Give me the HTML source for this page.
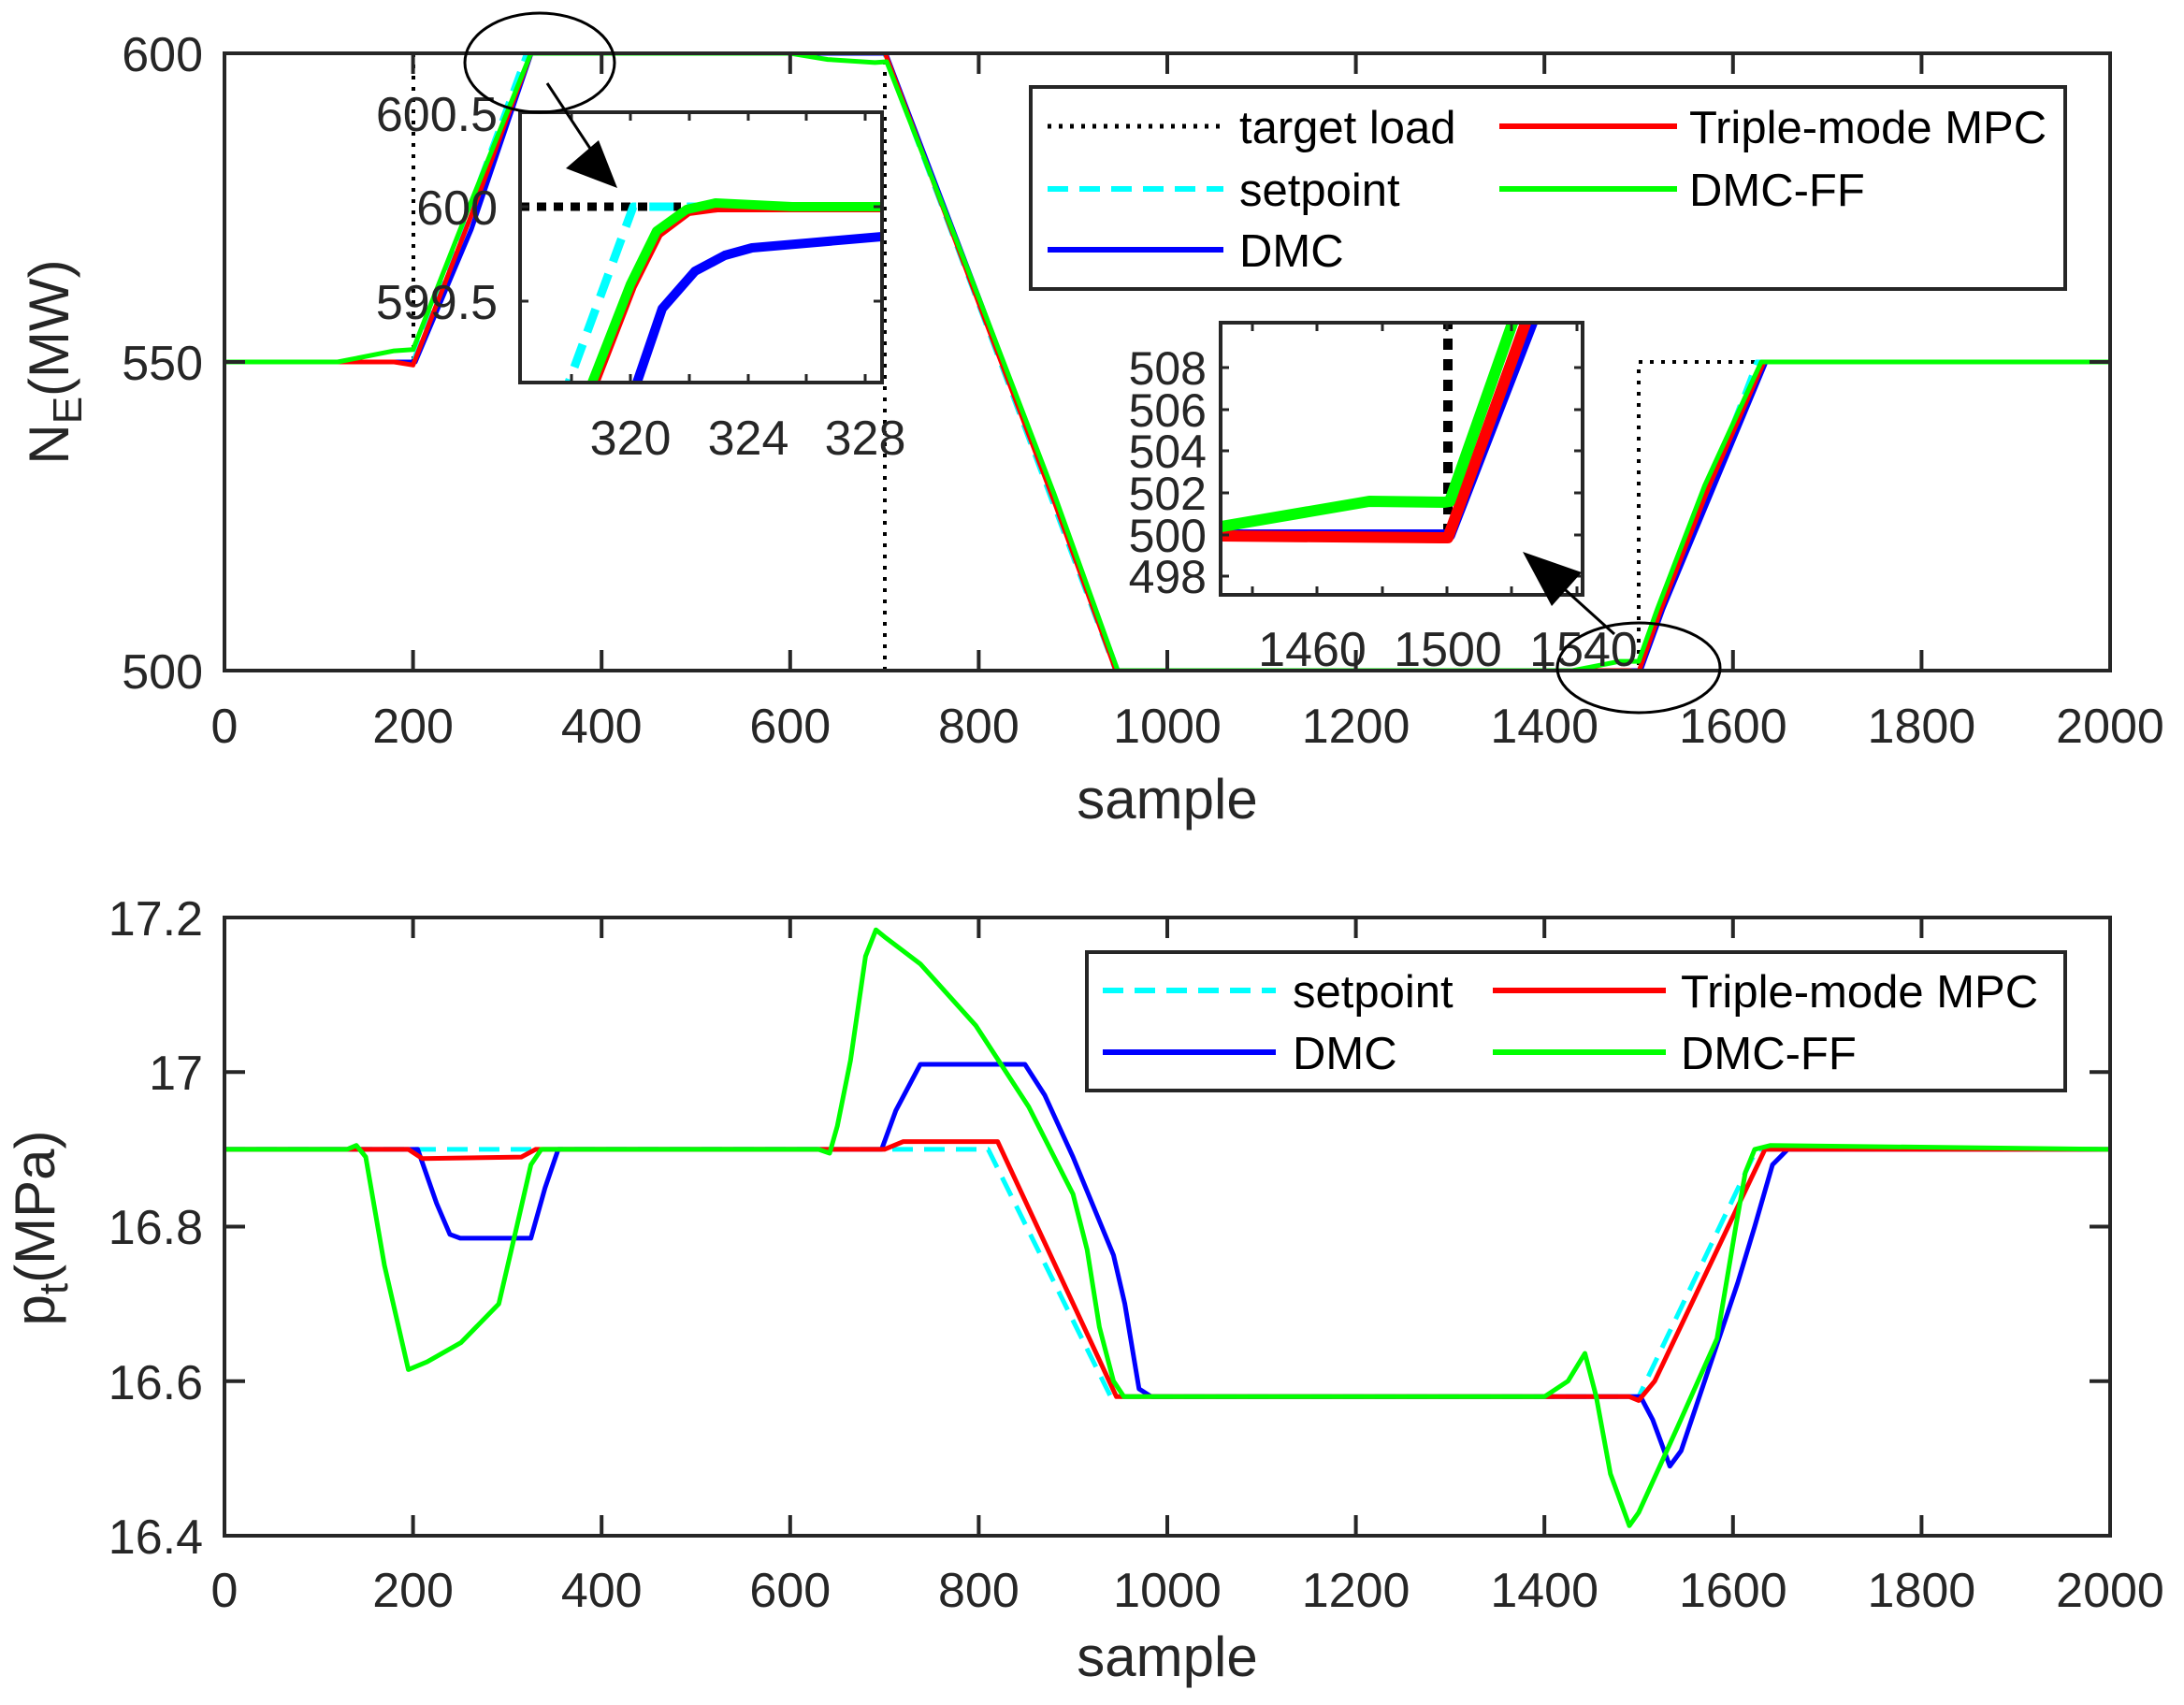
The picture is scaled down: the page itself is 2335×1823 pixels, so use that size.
<!DOCTYPE html>
<html><head><meta charset="utf-8"><style>
html,body{margin:0;padding:0;background:#fff}
svg{display:block}
text{font-family:"Liberation Sans",Arial,sans-serif}
</style></head><body>
<svg width="2335" height="1823" viewBox="0 0 2335 1823" xmlns="http://www.w3.org/2000/svg">
<defs>
<clipPath id="c1"><rect x="240" y="57" width="2016" height="660"/></clipPath>
<clipPath id="c2"><rect x="240" y="981" width="2016" height="661"/></clipPath>
<clipPath id="i1"><rect x="556" y="120" width="387" height="289"/></clipPath>
<clipPath id="i2"><rect x="1305" y="345" width="387" height="291"/></clipPath>
</defs>
<rect width="2335" height="1823" fill="#fff"/>

<!-- ===== TOP PLOT ===== -->
<g clip-path="url(#c1)" fill="none" stroke-linejoin="round">
<polyline stroke="#000" stroke-width="4" stroke-dasharray="4 8" points="240,387 442,387 442,57 946,57 946,717 1752,717 1752,387 2256,387"/>
<polyline stroke="#00ffff" stroke-width="5" stroke-dasharray="22 12" points="240,387 441.6,387 562.6,57 945.6,57 1192.6,717 1752,717 1878,387 2256,387"/>
<polyline stroke="#0000ff" stroke-width="5" points="240,387 444,387 504,245 568,57 947,57 1048,322 1125,527 1195,717 1754,717 1778,651 1888,387 2256,387"/>
<polyline stroke="#ff0000" stroke-width="5" points="240,387 421.4,387 441.6,390.3 502,235 567.6,57 945.6,55 952,72 1046.4,324 1127,536 1193,717 1742,717 1752,718.3 1776,651 1827.6,519 1886,387 2256,387"/>
<polyline stroke="#00ff00" stroke-width="5" points="240,387 361,387 421.4,375.1 441.6,373.8 502,220 567.6,57 844.8,57 885,63.6 935.5,66.9 948,66 1046.4,318 1127,528 1195,717 1681.4,717 1732,707.1 1752,707.1 1772,651 1822.6,519 1883,387 2256,387"/>
</g>
<rect x="240" y="57" width="2016" height="660" fill="none" stroke="#262626" stroke-width="4"/>
<g stroke="#262626" stroke-width="4">
<path d="M441.6,717v-22M643.2,717v-22M844.8,717v-22M1046.4,717v-22M1248,717v-22M1449.6,717v-22M1651.2,717v-22M1852.8,717v-22M2054.4,717v-22"/>
<path d="M441.6,57v22M643.2,57v22M844.8,57v22M1046.4,57v22M1248,57v22M1449.6,57v22M1651.2,57v22M1852.8,57v22M2054.4,57v22"/>
<path d="M240,387h22M2256,387h-22"/>
</g>
<g font-size="52" fill="#262626" text-anchor="middle">
<text x="240" y="794">0</text><text x="441.6" y="794">200</text><text x="643.2" y="794">400</text><text x="844.8" y="794">600</text><text x="1046.4" y="794">800</text><text x="1248" y="794">1000</text><text x="1449.6" y="794">1200</text><text x="1651.2" y="794">1400</text><text x="1852.8" y="794">1600</text><text x="2054.4" y="794">1800</text><text x="2256" y="794">2000</text>
</g>
<g font-size="52" fill="#262626" text-anchor="end">
<text x="217" y="76">600</text><text x="217" y="406">550</text><text x="217" y="736">500</text>
</g>
<text x="1248" y="875" font-size="60" fill="#262626" text-anchor="middle">sample</text>
<text transform="translate(73,387) rotate(-90)" font-size="60" fill="#262626" text-anchor="middle">N<tspan font-size="44" dy="14">E</tspan><tspan dy="-14">(MW)</tspan></text>

<!-- legend top -->
<rect x="1102" y="93" width="1106" height="216" fill="#fff" stroke="#262626" stroke-width="4"/>
<g stroke-width="5">
<line x1="1120" y1="135" x2="1308" y2="135" stroke="#000" stroke-dasharray="4 8"/>
<line x1="1120" y1="202" x2="1308" y2="202" stroke="#00ffff" stroke-dasharray="22 12" stroke-width="6"/>
<line x1="1120" y1="267" x2="1308" y2="267" stroke="#0000ff" stroke-width="6"/>
<line x1="1603" y1="135" x2="1793" y2="135" stroke="#ff0000" stroke-width="6"/>
<line x1="1603" y1="202" x2="1793" y2="202" stroke="#00ff00" stroke-width="6"/>
</g>
<g font-size="49" fill="#000">
<text x="1325" y="153">target load</text>
<text x="1325" y="220">setpoint</text>
<text x="1325" y="285">DMC</text>
<text x="1806" y="153">Triple-mode MPC</text>
<text x="1806" y="220">DMC-FF</text>
</g>

<!-- inset 1 -->
<rect x="556" y="120" width="387" height="289" fill="#fff"/>
<g clip-path="url(#i1)" fill="none" stroke-linejoin="round">
<line x1="556" y1="221" x2="943" y2="221" stroke="#000" stroke-width="9" stroke-dasharray="10 8"/>
<polyline stroke="#00ffff" stroke-width="9" stroke-dasharray="26 14" points="600,430 608,409 677,221 943,221"/>
<polyline stroke="#0000ff" stroke-width="10" points="675,430 681,409 708,330 743,290 775,273 804,265 943,253"/>
<polyline stroke="#ff0000" stroke-width="10" points="630,430 636,409 676,306 704,250 736,226 767,222 943,222"/>
<polyline stroke="#00ff00" stroke-width="10" points="627,430 633,409 674,304 702,247 734,224 765,217 847,221 943,221"/>
</g>
<rect x="556" y="120" width="387" height="289" fill="none" stroke="#262626" stroke-width="4"/>
<g stroke="#262626" stroke-width="3">
<path d="M611,409v-9M674,409v-9M737,409v-9M800,409v-9M862,409v-9M925,409v-9M611,120v9M674,120v9M737,120v9M800,120v9M862,120v9M925,120v9M556,322h9M556,221h9M943,322h-9M943,221h-9"/>
</g>
<g font-size="52" fill="#262626">
<text x="532" y="140" text-anchor="end">600.5</text>
<text x="532" y="240" text-anchor="end">600</text>
<text x="532" y="341" text-anchor="end">599.5</text>
<text x="674" y="486" text-anchor="middle">320</text>
<text x="800" y="486" text-anchor="middle">324</text>
<text x="925" y="486" text-anchor="middle">328</text>
</g>

<!-- inset 2 -->
<rect x="1305" y="345" width="387" height="291" fill="#fff"/>
<g clip-path="url(#i2)" fill="none" stroke-linejoin="round">
<line x1="1548" y1="572" x2="1548" y2="345" stroke="#000" stroke-width="10" stroke-dasharray="12 10"/>
<polyline stroke="#0000ff" stroke-width="12" points="1300,572 1542,572 1550,572 1640,340"/>
<polyline stroke="#ff0000" stroke-width="12" points="1300,573 1540,575 1548,575 1633,340"/>
<polyline stroke="#00ff00" stroke-width="12" points="1300,564 1464,536 1544,537 1550,536 1619,340"/>
</g>
<rect x="1305" y="345" width="387" height="291" fill="none" stroke="#262626" stroke-width="4"/>
<g stroke="#262626" stroke-width="3">
<path d="M1339,636v-9M1408,636v-9M1478,636v-9M1547,636v-9M1616,636v-9M1686,636v-9M1339,345v9M1408,345v9M1478,345v9M1547,345v9M1616,345v9M1686,345v9"/>
<path d="M1305,393h9M1305,438h9M1305,482h9M1305,527h9M1305,572h9M1305,616h9M1692,393h-9M1692,438h-9M1692,482h-9M1692,527h-9M1692,572h-9M1692,616h-9"/>
</g>
<g font-size="50" fill="#262626" text-anchor="end">
<text x="1290" y="411">508</text><text x="1290" y="456">506</text><text x="1290" y="500">504</text><text x="1290" y="545">502</text><text x="1290" y="590">500</text><text x="1290" y="634">498</text>
</g>
<g font-size="52" fill="#262626" text-anchor="middle">
<text x="1403" y="712">1460</text><text x="1548" y="712">1500</text><text x="1693" y="712">1540</text>
</g>

<!-- ellipses and arrows -->
<ellipse cx="577" cy="67" rx="80" ry="53" fill="none" stroke="#000" stroke-width="3"/>
<line x1="585" y1="89" x2="645" y2="180" stroke="#000" stroke-width="3"/>
<polygon points="660,201 605,180 640,150" fill="#000"/>
<ellipse cx="1752" cy="714" rx="87" ry="48" fill="none" stroke="#000" stroke-width="3"/>
<line x1="1726" y1="678" x2="1645" y2="605" stroke="#000" stroke-width="3"/>
<polygon points="1628,590 1691,612 1659,648" fill="#000"/>

<!-- ===== BOTTOM PLOT ===== -->
<g clip-path="url(#c2)" fill="none" stroke-linejoin="round">
<polyline stroke="#00ffff" stroke-width="5" stroke-dasharray="22 12" points="240,1228.9 1056.5,1228.9 1187.5,1493.3 1752,1493.3 1878,1228.9 2256,1228.9"/>
<polyline stroke="#0000ff" stroke-width="5" points="240,1228.9 446.6,1228.9 466.8,1286.7 481,1319.8 492,1323.9 567.6,1323.9 582.7,1270.2 596.8,1228.9 942.6,1228.9 957.7,1187.6 983.9,1138 1095.8,1138 1117,1171 1147.2,1237.1 1190.5,1342.1 1202.6,1394.1 1217.8,1485 1230.9,1493.3 1754,1493.3 1767,1518 1785.3,1567.6 1797.4,1551.1 1857.8,1371.8 1876,1311.5 1895,1245.4 1911.3,1228.9 2256,1228.9"/>
<polyline stroke="#ff0000" stroke-width="5" points="240,1228.9 436.6,1228.9 451.7,1238.8 557.5,1237.1 572.6,1228.9 945.6,1228.9 965.8,1220.6 1066.6,1220.6 1193.6,1493.3 1742,1493.3 1752,1497.4 1769.1,1476.7 1887,1228.9 2256,1228.9"/>
<polyline stroke="#00ff00" stroke-width="5" points="240,1228.9 371,1228.9 381,1224.7 391,1237 411,1352.8 436.6,1464.4 456.7,1456.1 493,1435.4 533.3,1394.1 552.5,1311.5 567.6,1245.4 578.7,1228.9 875,1228.9 887,1233 895.2,1204.1 909.3,1133.9 925.4,1022.4 936.5,994.2 945.6,1001.6 983.9,1030.6 1043.4,1096.7 1099.8,1183.4 1147.2,1276.8 1162.3,1336.3 1175.4,1418.9 1190.5,1476.7 1201.6,1493.3 1651.2,1493.3 1676.4,1476.7 1694.5,1447 1706.6,1493.3 1721.8,1575.9 1742,1631.3 1752,1617.2 1793.3,1526.3 1835.7,1431.3 1855.8,1311.5 1866,1253.7 1876,1228.9 1893,1224.7 2256,1228.9"/>
</g>
<rect x="240" y="981" width="2016" height="661" fill="none" stroke="#262626" stroke-width="4"/>
<g stroke="#262626" stroke-width="4">
<path d="M441.6,1642v-22M643.2,1642v-22M844.8,1642v-22M1046.4,1642v-22M1248,1642v-22M1449.6,1642v-22M1651.2,1642v-22M1852.8,1642v-22M2054.4,1642v-22"/>
<path d="M441.6,981v22M643.2,981v22M844.8,981v22M1046.4,981v22M1248,981v22M1449.6,981v22M1651.2,981v22M1852.8,981v22M2054.4,981v22"/>
<path d="M240,1146.3h22M240,1311.5h22M240,1476.8h22M2256,1146.3h-22M2256,1311.5h-22M2256,1476.8h-22"/>
</g>
<g font-size="52" fill="#262626" text-anchor="middle">
<text x="240" y="1718">0</text><text x="441.6" y="1718">200</text><text x="643.2" y="1718">400</text><text x="844.8" y="1718">600</text><text x="1046.4" y="1718">800</text><text x="1248" y="1718">1000</text><text x="1449.6" y="1718">1200</text><text x="1651.2" y="1718">1400</text><text x="1852.8" y="1718">1600</text><text x="2054.4" y="1718">1800</text><text x="2256" y="1718">2000</text>
</g>
<g font-size="52" fill="#262626" text-anchor="end">
<text x="217" y="1000">17.2</text><text x="217" y="1165">17</text><text x="217" y="1330">16.8</text><text x="217" y="1496">16.6</text><text x="217" y="1661">16.4</text>
</g>
<text x="1248" y="1792" font-size="60" fill="#262626" text-anchor="middle">sample</text>
<text transform="translate(58,1313) rotate(-90)" font-size="60" fill="#262626" text-anchor="middle">p<tspan font-size="44" dy="14">t</tspan><tspan dy="-14">(MPa)</tspan></text>

<!-- legend bottom -->
<rect x="1162" y="1018" width="1046" height="148" fill="#fff" stroke="#262626" stroke-width="4"/>
<line x1="1179" y1="1059" x2="1364" y2="1059" stroke="#00ffff" stroke-width="6" stroke-dasharray="22 12"/>
<line x1="1179" y1="1125" x2="1364" y2="1125" stroke="#0000ff" stroke-width="6"/>
<line x1="1596" y1="1059" x2="1781" y2="1059" stroke="#ff0000" stroke-width="6"/>
<line x1="1596" y1="1125" x2="1781" y2="1125" stroke="#00ff00" stroke-width="6"/>
<g font-size="49" fill="#000">
<text x="1382" y="1077">setpoint</text>
<text x="1382" y="1143">DMC</text>
<text x="1797" y="1077">Triple-mode MPC</text>
<text x="1797" y="1143">DMC-FF</text>
</g>
</svg>
</body></html>
